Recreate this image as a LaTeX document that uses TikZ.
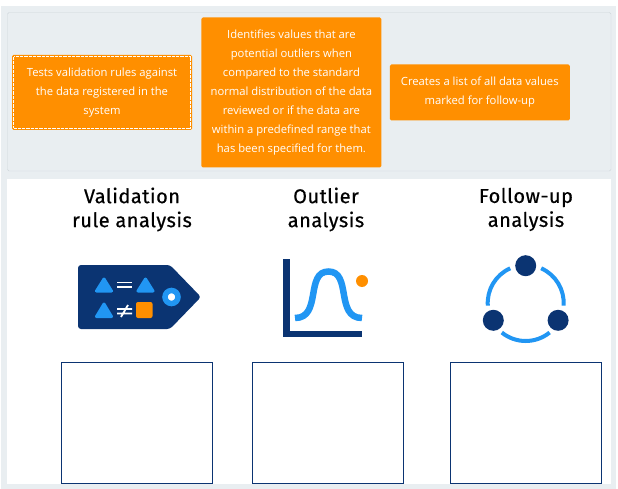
\documentclass[tikz,border=0pt]{standalone}
\usepackage{fontspec}
\setmainfont{Open Sans}
\newfontfamily\headfont[LetterSpace=2.5,FakeBold=0.5]{Fira Sans}
\usetikzlibrary{calc,positioning}
\definecolor{PanelGray}{HTML}{E9EEF1}
\definecolor{PanelLine}{HTML}{CFD6DA}
\definecolor{TagOrange}{HTML}{FF8F00}
\definecolor{IconNavy}{HTML}{0B3472}
\definecolor{IconBlue}{HTML}{2196F3}
\tikzset{
  descbox/.style={fill=TagOrange, text=white, rounded corners=1.5pt, align=center, inner sep=0pt, minimum width=180pt, font=\fontsize{11.25}{19}\selectfont},
  headlabel/.style={align=center, inner sep=0pt, font=\headfont\fontsize{20}{24}\selectfont},
  answerbox/.style={draw=IconNavy, fill=white, line width=1pt, minimum width=151pt, minimum height=121pt, inner sep=0pt},
  icontri/.style={fill=IconBlue, draw=IconBlue, line width=3pt, line join=round},
  iconbar/.style={draw=white, line width=1.8pt},
  iconarc/.style={draw=IconBlue, line width=4pt},
  icondot/.style={fill=IconNavy, circle, minimum size=21pt, inner sep=0pt}
}
\begin{document}
\begin{tikzpicture}[x=1pt,y=1pt]
  \useasboundingbox (0,0) rectangle (618,-489);
  \fill[PanelGray] (1,-6) rectangle (616,-489);
  \draw[PanelLine, fill=PanelGray, rounded corners=1.5pt] (7.5,-12.5) rectangle (611,-171);
  \fill[white] (7,-179) rectangle (611,-484);

  % description boxes
  \node[descbox, minimum height=75pt] (rulebox) at (102,-92.5) {Tests validation rules against\\the data registered in the\\system};
  \node[descbox, minimum height=150pt, right=9pt of rulebox] (outlierbox) {Identifies values that are\\potential outliers when\\compared to the standard\\normal distribution of the data\\reviewed or if the data are\\within a predefined range that\\has been specified for them.};
  \node[descbox, minimum height=56pt, right=8pt of outlierbox] (followbox) {Creates a list of all data values\\marked for follow-up};
  \draw[white, dash pattern=on 1pt off 0.3pt, line width=0.8pt] ($(rulebox.north west)+(2,-2)$) rectangle ($(rulebox.south east)+(-2,2)$);

  % headings
  \node[headlabel] (rulehead) at (132,-209.5) {Validation\\rule analysis};
  \node[headlabel] (outlierhead) at (326,-209.5) {Outlier\\analysis};
  \node[headlabel] (followhead) at (526,-209.5) {Follow-up\\analysis};

  % empty boxes
  \node[answerbox] (ruleans) at (137,-422.5) {};
  \node[answerbox, right=39pt of ruleans] (outlierans) {};
  \node[answerbox, right=46pt of outlierans] (followans) {};

  % tag icon
  \fill[IconNavy, rounded corners=3pt] (78,-265) -- (170,-265) -- (201,-297) -- (170,-329) -- (78,-329) -- cycle;
  \path[icontri] (104,-279) -- (111.5,-291) -- (96.5,-291) -- cycle;
  \path[icontri] (145.5,-279) -- (153,-291) -- (138,-291) -- cycle;
  \path[icontri] (104,-304) -- (111.5,-316.5) -- (96.5,-316.5) -- cycle;
  \fill[TagOrange, rounded corners=2pt] (136,-302) rectangle (152.5,-318);
  \draw[iconbar] (117,-282.5) -- (132,-282.5) (117,-287) -- (132,-287);
  \draw[iconbar] (117,-309) -- (132,-309) (117,-313.5) -- (132,-313.5) (121,-317) -- (128,-305);
  \node[circle, draw=IconBlue, fill=white, line width=5.5pt, minimum size=13pt, inner sep=0pt] (tagring) at (171.5,-297) {};

  % bell curve icon
  \draw[IconNavy, line width=6.5pt] (286.5,-259) -- (286.5,-334) -- (362,-334);
  \draw[IconBlue, line width=6.5pt] (295,-318) .. controls (322,-318) and (305,-271.5) .. (328.5,-271.5) .. controls (352,-271.5) and (335,-318) .. (362,-318);
  \node[circle, fill=TagOrange, minimum size=12pt, inner sep=0pt] (belldot) at (362,-281) {};

  % network icon
  \coordinate (ringc) at (525.7,-303);
  \draw[iconarc] ($(ringc)+(66:38pt)$) arc[start angle=66, end angle=-4, radius=38pt];
  \draw[iconarc] ($(ringc)+(114:38pt)$) arc[start angle=114, end angle=184, radius=38pt];
  \draw[iconarc] ($(ringc)+(231:38pt)$) arc[start angle=231, end angle=309, radius=38pt];
  \node[icondot] (topdot) at (525.7,-265.7) {};
  \node[icondot] (leftdot) at (493.3,-320.3) {};
  \node[icondot] (rightdot) at (558.1,-320.3) {};
\end{tikzpicture}
\end{document}
